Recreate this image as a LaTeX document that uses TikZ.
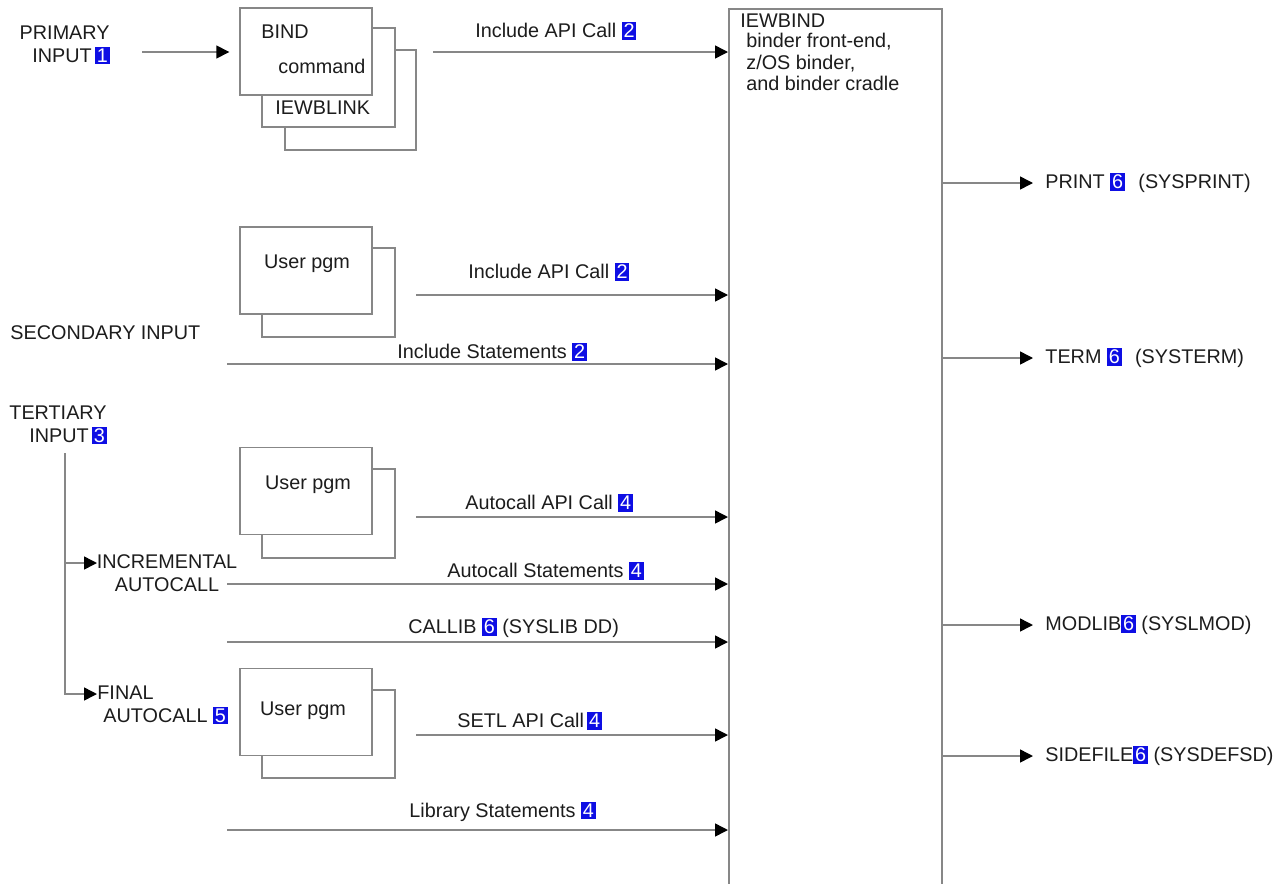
\documentclass[tikz,border=0pt]{standalone}
\usepackage{fontspec}
\setmainfont{Liberation Sans}
\usetikzlibrary{arrows.meta, positioning, calc}
\definecolor{idblue}{RGB}{14,14,228}
\definecolor{linegray}{RGB}{135,135,135}
\definecolor{inkgray}{RGB}{28,28,28}
\newcommand{\labelfont}{\fontsize{9.9}{11.6}\selectfont}
\newcommand{\numbox}[1]{{\setlength{\fboxsep}{0.9pt}\colorbox{idblue}{\textcolor{white}{#1}}}}
\tikzset{
  pgmbox/.style    = {draw=linegray, fill=white, line width=0.7pt,
                      minimum width=66pt, minimum height=43.5pt, inner sep=0pt},
  backbox/.style   = {draw=linegray, fill=white, line width=0.7pt},
  binderbox/.style = {draw=linegray, fill=white, line width=0.8pt, anchor=north west,
                      minimum width=106.5pt, minimum height=450pt, inner sep=0pt},
  lbl/.style       = {font=\labelfont, text=inkgray, inner sep=0pt},
  flow/.style      = {draw=linegray, line width=0.75pt,
                      -{Triangle[length=6.5pt, width=6.5pt, color=black]}},
}

\begin{document}
\begin{tikzpicture}[x=0.5pt, y=-0.5pt]
    \useasboundingbox (0,0) rectangle (1286,884);
    \clip (0,0) rectangle (1286,884);

    % --- binder -----------------------------------------------------------
    \node[binderbox] (iewbind) at (728,8) {};
    \node[lbl, anchor=north west, align=left, font=\fontsize{9.9}{10.8}\selectfont]
      (iewbindtxt) at (740,13)
      {IEWBIND\\[-0.6pt]
       \hspace*{3pt}binder front-end,\\
       \hspace*{3pt}z/OS binder,\\
       \hspace*{3pt}and binder cradle};

    % --- primary input ----------------------------------------------------
    \node[lbl, align=right, anchor=east] (primary) at (110,45)
      {PRIMARY\\INPUT\,\numbox{1}};
    \draw[backbox] (285,50) rectangle (416,150);
    \draw[backbox] (262,28) rectangle (395,127);
    \node[pgmbox] (bindcmd) at (306,51.5) {};
    \node[lbl, anchor=west] (bindtxt) at (261,32) {BIND};
    \node[lbl, anchor=west] (cmdtxt) at (278,66) {command};
    \node[lbl, anchor=west] (blinktxt) at (275,108) {IEWBLINK};
    \coordinate (primtail) at (142,52);
    \draw[flow, shorten >=5pt] (primtail) -- (primtail -| bindcmd.west);

    \coordinate (bindtail) at (433,52);
    \draw[flow] (bindtail) -- (bindtail -| iewbind.west);
    \node[lbl, anchor=west] (apiA) at (475,31) {Include API Call \numbox{2}};

    % --- secondary input --------------------------------------------------
    \draw[backbox] (262,248) rectangle (395,337);
    \node[pgmbox] (pgmA) at (306,270.5) {};
    \node[lbl] (pgmAtxt) at (307,264) {User pgm};
    \coordinate (pgmAtail) at (416,295);
    \draw[flow] (pgmAtail) -- (pgmAtail -| iewbind.west);
    \node[lbl, anchor=west] (apiB) at (468,272) {Include API Call \numbox{2}};

    \node[lbl, anchor=west] (secondary) at (10,333) {SECONDARY INPUT};
    \coordinate (incltail) at (227,364);
    \draw[flow] (incltail) -- (incltail -| iewbind.west);
    \node[lbl, anchor=west] (inclstmt) at (397,352) {Include Statements \numbox{2}};

    % --- tertiary input ---------------------------------------------------
    \node[lbl, align=right, anchor=east] (tertiary) at (107,425)
      {TERTIARY\\INPUT\,\numbox{3}};
    \coordinate (tbranch) at (65,453);
    \coordinate (incrtip) at (97,563);
    \coordinate (finaltip) at (97,694);
    \draw[flow] (tbranch) |- (finaltip);
    \draw[flow] (tbranch |- incrtip) -- (incrtip);
    \node[lbl, align=center] (incr) at (167,573) {INCREMENTAL\\AUTOCALL};
    \node[lbl, anchor=west, align=left] (final) at (97,705)
      {FINAL\\\hspace*{3pt}AUTOCALL \numbox{5}};

    \draw[backbox] (262,469) rectangle (395,558);
    \node[pgmbox] (pgmB) at (306,491) {};
    \node[lbl] (pgmBtxt) at (308,485) {User pgm};
    \coordinate (pgmBtail) at (416,517);
    \draw[flow] (pgmBtail) -- (pgmBtail -| iewbind.west);
    \node[lbl, anchor=west] (autoapi) at (465,503) {Autocall API Call \numbox{4}};

    \coordinate (autotail) at (227,584);
    \draw[flow] (autotail) -- (autotail -| iewbind.west);
    \node[lbl, anchor=west] (autostmt) at (447,571) {Autocall Statements \numbox{4}};

    \coordinate (callibtail) at (227,642);
    \draw[flow] (callibtail) -- (callibtail -| iewbind.west);
    \node[lbl, anchor=west] (callib) at (408,628) {CALLIB \numbox{6} (SYSLIB DD)};

    \draw[backbox] (262,690) rectangle (395,778);
    \node[pgmbox] (pgmC) at (306,712) {};
    \node[lbl] (pgmCtxt) at (303,711) {User pgm};
    \coordinate (pgmCtail) at (416,735);
    \draw[flow] (pgmCtail) -- (pgmCtail -| iewbind.west);
    \node[lbl, anchor=west] (setl) at (457,721) {SETL API Call\,\numbox{4}};

    \coordinate (libtail) at (227,830);
    \draw[flow] (libtail) -- (libtail -| iewbind.west);
    \node[lbl, anchor=west] (libstmt) at (409,812) {Library Statements \numbox{4}};

    % --- outputs ----------------------------------------------------------
    \node[lbl, anchor=west] (printout) at (1045,183)
      {PRINT \numbox{6}\hspace{4pt} (SYSPRINT)};
    \node[lbl, anchor=west] (termout) at (1045,358)
      {TERM \numbox{6}\hspace{4pt} (SYSTERM)};
    \node[lbl, anchor=west] (modlibout) at (1045,625)
      {MODLIB\numbox{6} (SYSLMOD)};
    \node[lbl, anchor=west] (sideout) at (1045,756)
      {SIDEFILE\numbox{6} (SYSDEFSD)};
    \foreach \out in {printout, termout, modlibout, sideout}
      \draw[flow, shorten >=6pt] (iewbind.east |- \out.west) -- (\out.west);

\end{tikzpicture}
\end{document}
